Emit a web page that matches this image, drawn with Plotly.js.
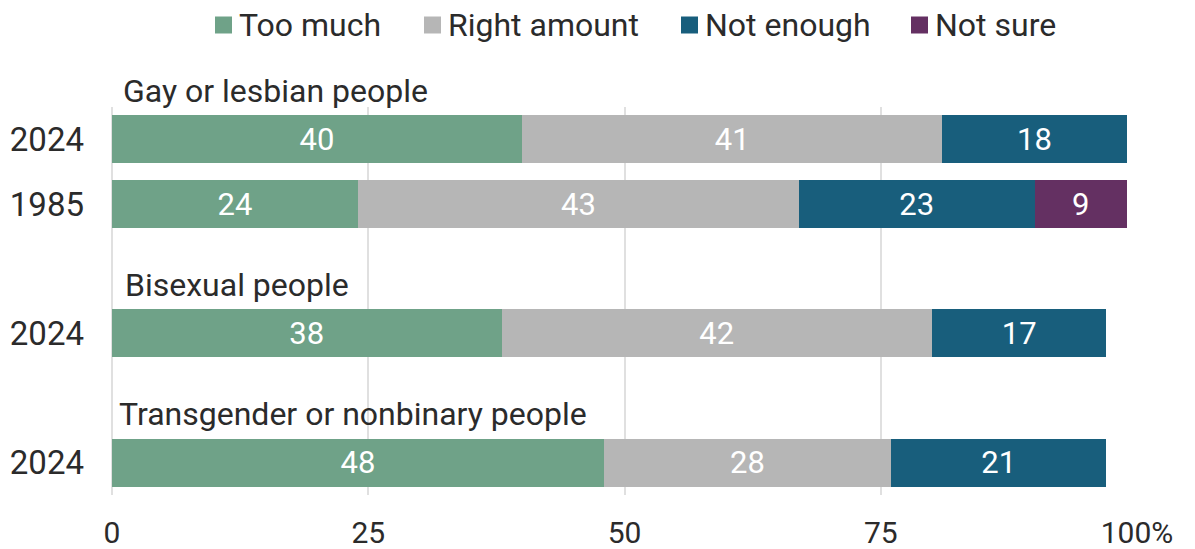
<!DOCTYPE html>
<html>
<head>
<meta charset="utf-8">
<script src="https://cdn.plot.ly/plotly-3.0.1.min.js"></script>
<style>html,body{margin:0;padding:0;background:#fff;}#chart{width:1195px;height:549px;}</style>
</head>
<body>
<div id="chart"></div>
<script>
// ---- data ----
const groups = ["Gay or lesbian people", "Bisexual people", "Transgender or nonbinary people"];
const rowGroup = [0, 0, 1, 2];
const rowYears = ["2024", "1985", "2024", "2024"];
const seriesNames = ["Too much", "Right amount", "Not enough", "Not sure"];
const tooMuch = [40, 24, 38, 48];
const rightAmount = [41, 43, 42, 28];
const notEnough = [18, 23, 17, 21];
const notSure = [null, 9, null, null];
const xTickVals = [0, 25, 50, 75, 100];
const xTickText = ["0", "25", "50", "75", "100%"];

// ---- styles ----
const colors = ["#6fa288", "#b6b6b6", "#185e7c", "#643062"];
const FONT = "Roboto, 'Open Sans', sans-serif";
const TXT = "#2b2b2b";
const W = 1195, H = 549;
const M = {l: 112, r: 58, t: 107, b: 54};
const plotW = W - M.l - M.r, plotH = H - M.t - M.b;
const pxX = px => (px - M.l) / plotW;      // pixel -> paper x
const pxY = py => (H - M.b - py) / plotH;  // pixel -> paper y

// row positions: one blank slot between groups
const rowPos = rowGroup.map((g, i) => i + g);
const yMin = -0.5, yMax = Math.max(...rowPos) + 0.5;
const rowToPaper = r => 1 - (r - yMin) / (yMax - yMin);
const unitPaper = 1 / (yMax - yMin);

const seriesVals = [tooMuch, rightAmount, notEnough, notSure];
const traces = seriesVals.map((vals, k) => ({
  type: "bar",
  orientation: "h",
  name: seriesNames[k],
  x: vals,
  y: rowPos,
  marker: {color: colors[k], line: {width: 0}},
  text: vals.map(v => v == null ? "" : String(v)),
  textposition: "inside",
  insidetextanchor: "middle",
  textangle: 0,
  constraintext: "none",
  textfont: {family: FONT, size: 31, color: "#ffffff"},
  hoverinfo: "name+x",
  showlegend: false
}));

// group label annotations, above first row of each group
const groupLabelLeft = [121, 123, 117];
const annotations = groups.map((g, gi) => {
  const firstRow = rowGroup.indexOf(gi);
  return {
    text: g,
    xref: "paper", yref: "paper",
    x: pxX(groupLabelLeft[gi]), y: rowToPaper(rowPos[firstRow]) + 0.75 * unitPaper,
    xanchor: "left", yanchor: "middle",
    showarrow: false,
    font: {family: FONT, size: 32, color: TXT}
  };
});

// manual legend (square swatch + label) laid out across the top
const legendSquareLeft = [215, 424, 681, 911];
const legendSquareSize = 17, legendCenterY = 25;
const shapes = [];
seriesNames.forEach((name, k) => {
  const x0 = legendSquareLeft[k];
  shapes.push({
    type: "rect", xref: "paper", yref: "paper", layer: "above",
    x0: pxX(x0), x1: pxX(x0 + legendSquareSize),
    y0: pxY(legendCenterY + legendSquareSize / 2), y1: pxY(legendCenterY - legendSquareSize / 2),
    fillcolor: colors[k], line: {width: 0}
  });
  annotations.push({
    text: name,
    xref: "paper", yref: "paper",
    x: pxX(x0 + legendSquareSize + 5), y: pxY(legendCenterY),
    xanchor: "left", yanchor: "middle",
    showarrow: false,
    font: {family: FONT, size: 32, color: TXT}
  });
});

const layout = {
  width: W, height: H,
  margin: {l: M.l, r: M.r, t: M.t, b: M.b, autoexpand: false},
  paper_bgcolor: "#ffffff", plot_bgcolor: "#ffffff",
  barmode: "stack",
  bargap: 0.26,
  font: {family: FONT, color: TXT},
  showlegend: false,
  xaxis: {
    range: [0, 100],
    tickvals: xTickVals,
    ticktext: xTickText,
    showgrid: true, gridcolor: "#e0e0e0", gridwidth: 2,
    zeroline: true, zerolinecolor: "#e0e0e0", zerolinewidth: 2,
    showline: false,
    ticks: "",
    ticklabelstandoff: 17,
    tickfont: {family: FONT, size: 30, color: TXT},
    fixedrange: true
  },
  yaxis: {
    range: [yMax, yMin],
    tickvals: rowPos,
    ticktext: rowYears,
    showgrid: false, zeroline: false, showline: false,
    ticks: "",
    ticklabelstandoff: 27,
    tickfont: {family: FONT, size: 33, color: TXT},
    fixedrange: true
  },
  shapes: shapes,
  annotations: annotations
};

Plotly.newPlot("chart", traces, layout, {displayModeBar: false, staticPlot: true});
</script>
</body>
</html>
